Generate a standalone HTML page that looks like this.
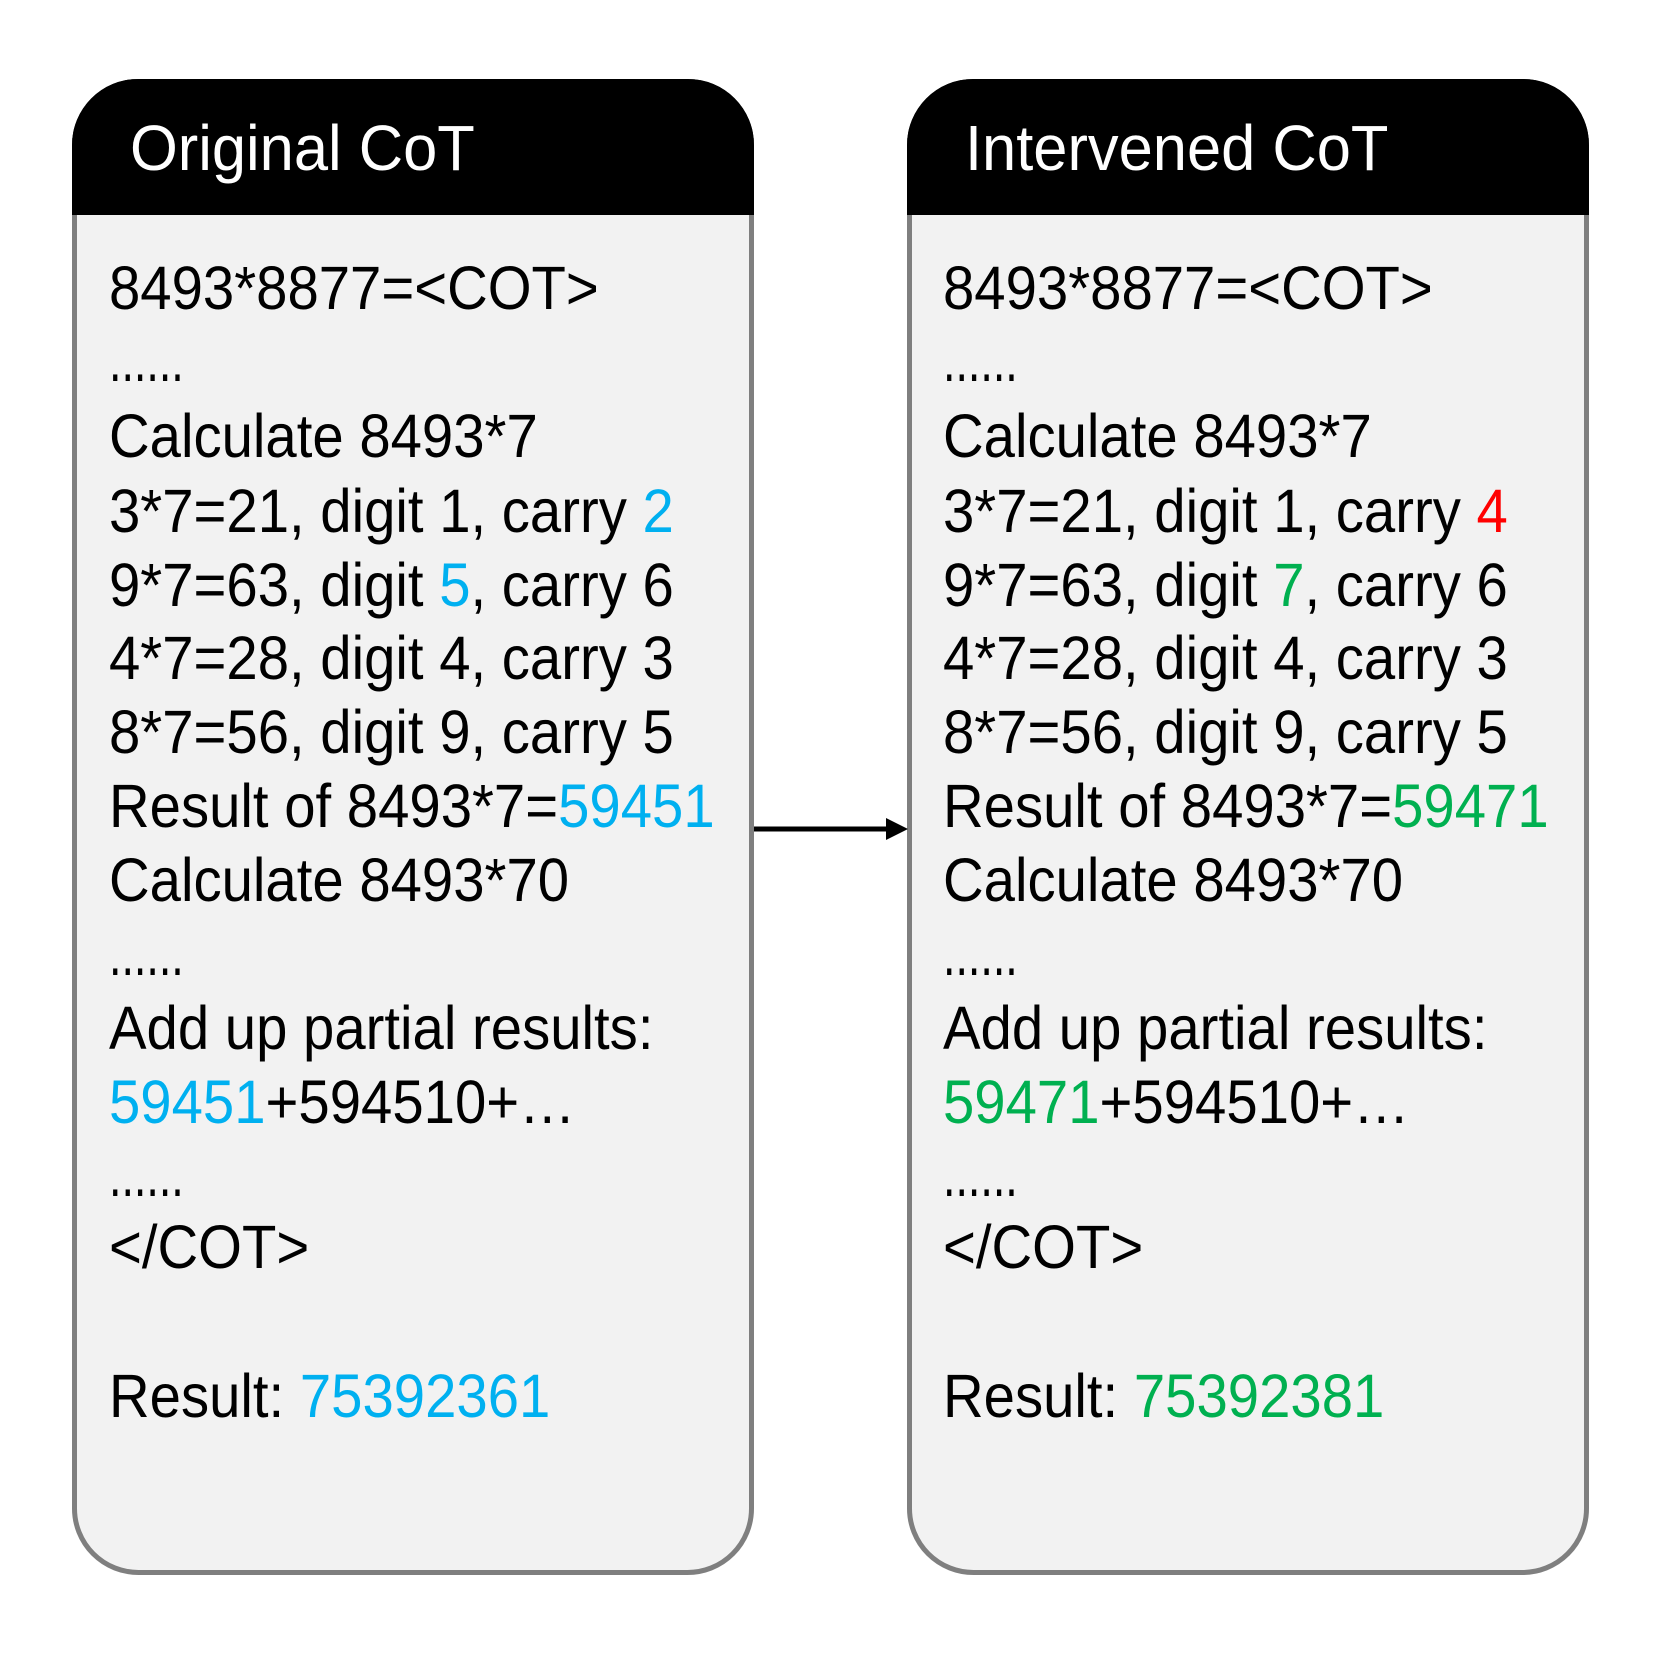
<!DOCTYPE html>
<html><head><meta charset="utf-8"><style>
html,body{margin:0;padding:0;background:#fff}
svg{display:block}
.t{font-family:"Liberation Sans",sans-serif;font-size:61px;fill:#000}
.h{font-family:"Liberation Sans",sans-serif;font-size:64px;fill:#fff}
.b{fill:#00B0F0}.g{fill:#00B050}.r{fill:#FF0000}
</style></head><body>
<svg width="1661" height="1661" viewBox="0 0 1661 1661" xmlns="http://www.w3.org/2000/svg">
<defs>
<clipPath id="c1"><rect x="72" y="79" width="682" height="1496" rx="66" ry="66"/></clipPath>
<clipPath id="c2"><rect x="907" y="79" width="682" height="1496" rx="66" ry="66"/></clipPath>
</defs>
<g clip-path="url(#c1)"><rect x="72" y="79" width="682" height="1496" fill="#F2F2F2"/><rect x="72" y="79" width="682" height="136" fill="#000"/></g>
<rect x="74.5" y="81.5" width="677" height="1491" rx="64" ry="64" fill="none" stroke="#7F7F7F" stroke-width="5"/>
<g clip-path="url(#c2)"><rect x="907" y="79" width="682" height="1496" fill="#F2F2F2"/><rect x="907" y="79" width="682" height="136" fill="#000"/></g>
<rect x="909.5" y="81.5" width="677" height="1491" rx="64" ry="64" fill="none" stroke="#7F7F7F" stroke-width="5"/>
<g clip-path="url(#c1)"><rect x="72" y="79" width="682" height="136" fill="#000"/></g>
<g clip-path="url(#c2)"><rect x="907" y="79" width="682" height="136" fill="#000"/></g>
<text class="h" x="130" y="170" transform="translate(130,0) scale(0.96,1) translate(-130,0)">Original CoT</text>
<text class="h" x="965" y="170" transform="translate(965,0) scale(0.96,1) translate(-965,0)">Intervened CoT</text>
<line x1="754" y1="829" x2="890" y2="829" stroke="#000" stroke-width="5"/>
<polygon points="908,829 886,818 886,840" fill="#000"/>
<g transform="translate(109,0) scale(0.923,1)">
<text class="t" x="0" y="309">8493*8877=&lt;COT&gt;</text>
<text class="t" x="0" y="381" textLength="81" lengthAdjust="spacingAndGlyphs">......</text>
<text class="t" x="0" y="457">Calculate 8493*7</text>
<text class="t" x="0" y="532">3*7=21, digit 1, carry <tspan class="b">2</tspan></text>
<text class="t" x="0" y="606">9*7=63, digit <tspan class="b">5</tspan>, carry 6</text>
<text class="t" x="0" y="679">4*7=28, digit 4, carry 3</text>
<text class="t" x="0" y="753">8*7=56, digit 9, carry 5</text>
<text class="t" x="0" y="827">Result of 8493*7=<tspan class="b">59451</tspan></text>
<text class="t" x="0" y="901">Calculate 8493*70</text>
<text class="t" x="0" y="975" textLength="81" lengthAdjust="spacingAndGlyphs">......</text>
<text class="t" x="0" y="1049">Add up partial results:</text>
<text class="t" x="0" y="1123"><tspan class="b">59451</tspan>+594510+…</text>
<text class="t" x="0" y="1196" textLength="81" lengthAdjust="spacingAndGlyphs">......</text>
<text class="t" x="0" y="1268">&lt;/COT&gt;</text>
<text class="t" x="0" y="1417">Result: <tspan class="b">75392361</tspan></text>
</g>
<g transform="translate(943,0) scale(0.923,1)">
<text class="t" x="0" y="309">8493*8877=&lt;COT&gt;</text>
<text class="t" x="0" y="381" textLength="81" lengthAdjust="spacingAndGlyphs">......</text>
<text class="t" x="0" y="457">Calculate 8493*7</text>
<text class="t" x="0" y="532">3*7=21, digit 1, carry <tspan class="r">4</tspan></text>
<text class="t" x="0" y="606">9*7=63, digit <tspan class="g">7</tspan>, carry 6</text>
<text class="t" x="0" y="679">4*7=28, digit 4, carry 3</text>
<text class="t" x="0" y="753">8*7=56, digit 9, carry 5</text>
<text class="t" x="0" y="827">Result of 8493*7=<tspan class="g">59471</tspan></text>
<text class="t" x="0" y="901">Calculate 8493*70</text>
<text class="t" x="0" y="975" textLength="81" lengthAdjust="spacingAndGlyphs">......</text>
<text class="t" x="0" y="1049">Add up partial results:</text>
<text class="t" x="0" y="1123"><tspan class="g">59471</tspan>+594510+…</text>
<text class="t" x="0" y="1196" textLength="81" lengthAdjust="spacingAndGlyphs">......</text>
<text class="t" x="0" y="1268">&lt;/COT&gt;</text>
<text class="t" x="0" y="1417">Result: <tspan class="g">75392381</tspan></text>
</g>
</svg>
</body></html>
